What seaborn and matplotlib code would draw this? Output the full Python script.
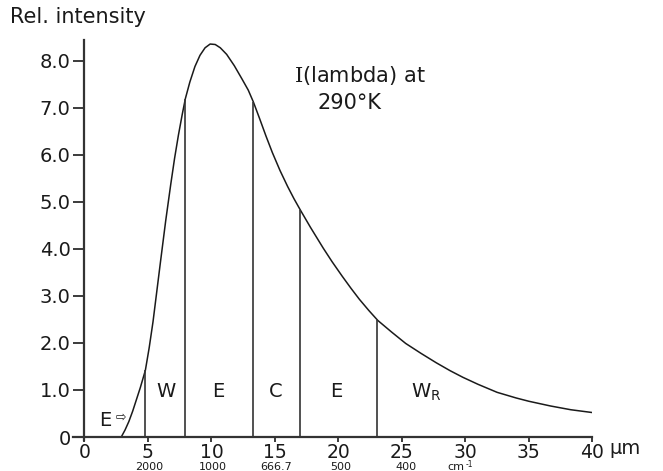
import numpy as np
import pandas as pd
import matplotlib
matplotlib.use("Agg")
import matplotlib.pyplot as plt
import seaborn as sns

# ---- data ----
wavelength = [2.9, 3.2, 3.5, 3.8, 4.1, 4.4, 4.8, 5.1, 5.4, 5.7, 6.0, 6.4, 6.8, 7.1, 7.4,
              7.7, 7.95, 8.3, 8.7, 9.1, 9.5, 9.9, 10.3, 10.7, 11.2, 11.8, 12.4, 12.9,
              13.3, 13.8, 14.3, 14.8, 15.4, 16.0, 16.5, 17.0, 17.8, 18.8, 19.5, 20.3,
              21.0, 21.65, 22.4, 23.1, 24.2, 25.3, 26.5, 27.7, 28.8, 29.8, 31.0, 32.5,
              34.0, 35.0, 36.7, 38.3, 40.0]
intensity = [0.0, 0.15, 0.33, 0.55, 0.8, 1.05, 1.42, 1.9, 2.45, 3.1, 3.75, 4.6, 5.38, 5.93,
             6.42, 6.86, 7.2, 7.55, 7.88, 8.12, 8.28, 8.36, 8.35, 8.28, 8.14, 7.9, 7.62, 7.38,
             7.13, 6.77, 6.4, 6.05, 5.67, 5.33, 5.07, 4.83, 4.46, 4.02, 3.73, 3.42,
             3.16, 2.93, 2.69, 2.48, 2.23, 1.99, 1.78, 1.58, 1.41, 1.27, 1.12, 0.95,
             0.83, 0.76, 0.66, 0.58, 0.52]
boundaries = [4.8, 7.95, 13.3, 17.0, 23.0]
band_labels = ["W", "E", "C", "E"]
band_label_x = [6.4, 10.5, 15.1, 19.8]
x_ticks = [0, 5, 10, 15, 20, 25, 30, 35, 40]
y_ticks = [0, 1, 2, 3, 4, 5, 6, 7, 8]
y_tick_labels = ["0", "1.0", "2.0", "3.0", "4.0", "5.0", "6.0", "7.0", "8.0"]
wavenumber_labels = ["2000", "1000", "666.7", "500", "400"]
wavenumber_x = [5.1, 10.1, 15.1, 20.2, 25.3]

sns.set_style("ticks")
plt.rcParams["font.family"] = ["DejaVu Sans"]
plt.rcParams["mathtext.fontset"] = "custom"
plt.rcParams["mathtext.rm"] = "DejaVu Serif"
plt.rcParams["mathtext.sf"] = "DejaVu Sans"

ink = "#1a1a1a"
fig = plt.figure(figsize=(6.63, 4.71), dpi=100)
ax = fig.add_axes([0.1101, 0.0652, 0.7834, 0.8503])

df = pd.DataFrame({"wl": wavelength, "I": intensity})
sns.lineplot(data=df, x="wl", y="I", ax=ax, color=ink, linewidth=1.1, sort=True)

heights = np.interp(boundaries, wavelength, intensity)
ax.vlines(boundaries, 0, heights, color="#333333", linewidth=1.2)

ax.set_xlim(-0.9, 40.0)
ax.set_ylim(-0.07, 8.45)
for s in ["top", "right"]:
    ax.spines[s].set_visible(False)
ax.spines["left"].set_position(("data", 0))
ax.spines["bottom"].set_position(("data", 0))
for s in ["left", "bottom"]:
    ax.spines[s].set_linewidth(1.6)
    ax.spines[s].set_color("#333333")

ax.set_xticks(x_ticks)
ax.set_xticklabels([str(t) for t in x_ticks])
ax.set_yticks(y_ticks)
ax.set_yticklabels(y_tick_labels)
ax.tick_params(axis="both", colors=ink, width=1.2)
ax.tick_params(axis="x", length=3.5, pad=0.5, labelsize=13.5)
ax.tick_params(axis="y", length=8, pad=2, labelsize=14)
ax.set_xlabel("")
ax.set_ylabel("")

# band labels
for lab, xv in zip(band_labels, band_label_x):
    ax.text(xv, 0.96, lab, fontsize=14, color=ink, ha="center", va="center")
ax.text(26.9, 0.96, r"W$_{\mathsf{R}}$", fontsize=14, color=ink, ha="center", va="center")
ax.text(1.65, 0.36, "E", fontsize=14, color=ink, ha="center", va="center")
ax.text(2.85, 0.42, "⇨", fontsize=9, color=ink, ha="center", va="center")

# curve annotation
ax.text(21.7, 7.7, r"$\mathrm{I}$(lambda) at", fontsize=15, color=ink, ha="center", va="center")
ax.text(20.9, 7.1, "290°K", fontsize=15, color=ink, ha="center", va="center")

# unit and wavenumber axis
ax.text(41.3, -0.24, "µm", fontsize=14, color=ink, ha="left", va="center", clip_on=False)
for lab, xv in zip(wavenumber_labels, wavenumber_x):
    ax.text(xv, -0.64, lab, fontsize=8, color=ink, ha="center", va="center", clip_on=False)
ax.text(28.6, -0.64, "cm", fontsize=8, color=ink, ha="left", va="center", clip_on=False)
ax.text(30.05, -0.59, "-1", fontsize=5.5, color=ink, ha="left", va="center", clip_on=False)

fig.text(10 / 663, 1 - 17 / 471, "Rel. intensity", fontsize=15, color=ink, ha="left", va="center")

fig.savefig("out.png", dpi=100)
